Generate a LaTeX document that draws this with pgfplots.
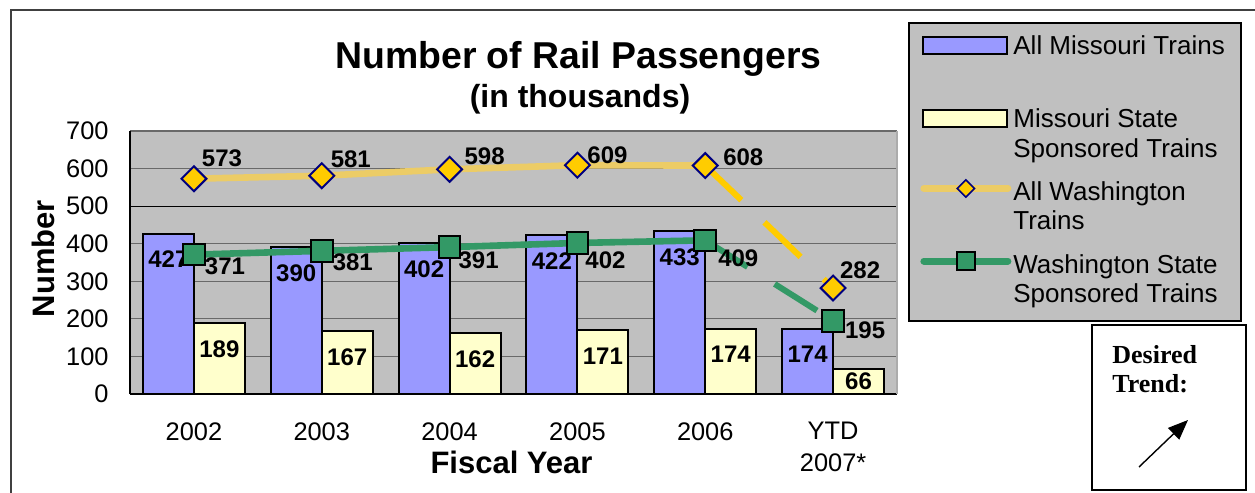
\documentclass[border=0pt]{standalone}
\usepackage{fontspec}
\setmainfont{Liberation Sans}
\newfontfamily\serifb{Liberation Serif}
\usepackage{pgfplots}
\pgfplotsset{compat=1.18}
\usetikzlibrary{arrows.meta}
\pgfplotsset{/pgf/number format/assume math mode=true}

\definecolor{mblue}{RGB}{153,153,255}
\definecolor{ybar}{RGB}{255,255,204}
\definecolor{plotbg}{RGB}{192,192,192}
\definecolor{gridc}{RGB}{105,105,105}
\definecolor{wline}{RGB}{236,204,102}
\definecolor{wdash}{RGB}{255,204,0}
\definecolor{wmark}{RGB}{255,204,0}
\definecolor{navyc}{RGB}{0,0,128}
\definecolor{gline}{RGB}{51,153,102}

\newcommand\tickfont{\fontsize{12.7bp}{15.8bp}\selectfont}
\newcommand\lblfont{\fontsize{12bp}{14bp}\selectfont\bfseries}
\newcommand\legfont{\fontsize{13bp}{15bp}\selectfont}
\newcommand\sA{\rule[-3bp]{0pt}{14bp}}
\newcommand\sB{\rule[-9.95bp]{0pt}{20.95bp}}
\newcommand\sC{\rule[-24.95bp]{0pt}{35.95bp}}

\pgfplotsset{
  legbar/.style={legend image code/.code={\draw[##1] (1.5bp,0.15bp) rectangle (43.5bp,8.65bp);}},
  legline/.style={legend image code/.code={\draw[mark repeat=2,mark phase=2,line cap=round,##1] plot coordinates {(1.75bp,6bp) (22.75bp,6bp) (43.75bp,6bp)};}},
}

\begin{document}
\begin{tikzpicture}
\useasboundingbox (0,0) rectangle (627.5bp,246.5bp);
% outer frame
\draw[line width=0.65bp, black!75] (5.5bp,0) -- (5.5bp,241.5bp) -- (627.5bp,241.5bp);
% legend box
\draw[fill=plotbg, draw=black, line width=1bp] (454.5bp,86bp) rectangle (620.5bp,235bp);
% desired trend box
\draw[line width=1.1bp] (546bp,1.5bp) rectangle (623bp,84bp);
\node[anchor=base west, inner sep=0pt, font=\serifb\bfseries\fontsize{13bp}{15bp}\selectfont] at (556bp,64.5bp) {Desired};
\node[anchor=base west, inner sep=0pt, font=\serifb\bfseries\fontsize{13bp}{15bp}\selectfont] at (556bp,50bp) {Trend:};
\draw[line width=0.7bp, -{Triangle[length=10bp,width=8bp]}] (569.5bp,13bp) -- (594bp,36.5bp);

\begin{axis}[
  at={(65bp,49.5bp)}, anchor=south west,
  scale only axis, width=383.5bp, height=131.5bp,
  xmin=-0.5, xmax=5.5, ymin=0, ymax=700,
  clip=false,
  xtick={0,1,2,3,4,5},
  xticklabels={2002,2003,2004,2005,2006,{YTD\\2007*}},
  ytick={0,100,200,300,400,600,700},
  extra y ticks={500},
  extra y tick style={grid style={black, line width=0.6bp}},
  major tick length=0pt,
  ymajorgrids, grid style={gridc, line width=0.6bp},
  axis background/.style={fill=plotbg},
  axis x line*=bottom, axis y line*=left,
  axis line style={black, line width=1bp},
  xticklabel style={font=\tickfont, anchor=north, inner sep=0pt, yshift=-14bp, align=center},
  yticklabel style={font=\tickfont, inner sep=0pt, xshift=-10.5bp},
  legend style={at={(1.029987,1.376426)}, anchor=north west, draw=none, fill=none, inner sep=0pt,
    row sep=0.7bp, column sep=1bp, cells={anchor=base west},
    nodes={inner sep=0pt, text depth=, text height=}, font=\legfont},
]
% right border
\draw[gray!65, line width=1bp] (rel axis cs:1,0) -- (rel axis cs:1,1);

% All Missouri Trains
\addplot[ybar, bar width=25.5bp, bar shift=-12.75bp, fill=mblue, draw=black, line width=1bp, forget plot,
  nodes near coords, point meta=y, visualization depends on={rawy \as \rawy},
  every node near coord/.append style={font=\lblfont, text=black, anchor=center, inner sep=0pt,
    xshift=-12.75bp, yshift={-min(13,0.18785*\rawy-6.5)*1bp}}]
  coordinates {(0,427) (1,390) (2,402) (3,422) (4,433) (5,174)};
% Missouri State Sponsored Trains
\addplot[ybar, bar width=25.5bp, bar shift=12.75bp, fill=ybar, draw=black, line width=1bp, forget plot,
  nodes near coords, point meta=y, visualization depends on={rawy \as \rawy},
  every node near coord/.append style={font=\lblfont, text=black, anchor=center, inner sep=0pt,
    xshift=12.75bp, yshift={-min(13,0.18785*\rawy-6.5)*1bp}}]
  coordinates {(0,189) (1,167) (2,162) (3,171) (4,174) (5,66)};

% All Washington Trains lines
\addplot[wline, line width=3.3bp, forget plot, mark=none] coordinates {(0,573) (1,581) (2,598) (3,609) (4,608)};
\addplot[wdash, line width=3bp, forget plot, mark=none, line cap=butt, dash pattern=on 25bp off 16bp] coordinates {(4,608) (5,282)};
% Washington State Sponsored lines
\addplot[gline, line width=3.3bp, forget plot, mark=none] coordinates {(0,371) (1,381) (2,391) (3,402) (4,409)};
\addplot[gline, line width=3bp, forget plot, mark=none, line cap=butt, dash pattern=on 25bp off 16bp] coordinates {(4,409) (5,195)};

% markers + labels
\addplot[only marks, forget plot, mark=square*, mark size=4.4bp,
  mark options={rotate=45, fill=wmark, draw=navyc, line width=1bp},
  nodes near coords, point meta=y,
  visualization depends on={\thisrow{dx} \as \dx},
  visualization depends on={\thisrow{dy} \as \dy},
  every node near coord/.append style={font=\lblfont, text=black, anchor=south west, inner sep=0pt,
    xshift=\dx bp, yshift=\dy bp}]
  table {
x y dx dy
0 573 3.5 5.35
1 581 4 3.7
2 598 7 2
3 609 4.5 0
4 608 8.5 -0.7
5 282 3 4
};
\addplot[only marks, forget plot, mark=square*, mark size=5.4bp,
  mark options={fill=gline, draw=black, line width=1bp},
  nodes near coords, point meta=y,
  visualization depends on={\thisrow{dx} \as \dx},
  visualization depends on={\thisrow{dy} \as \dy},
  every node near coord/.append style={font=\lblfont, text=black, anchor=north west, inner sep=0pt,
    xshift=\dx bp, yshift=\dy bp}]
  table {
x y dx dy
0 371 5 -1
1 381 5 -1
2 391 4 -2
3 402 3.5 -4
4 409 6 -4
5 195 5.5 0
};

% legend
\addlegendimage{legbar, fill=mblue, draw=black, line width=1bp}
\addlegendentry{All Missouri Trains\sC}
\addlegendimage{legbar, fill=ybar, draw=black, line width=1bp}
\addlegendentry{Missouri State\sA}
\addlegendimage{empty legend}
\addlegendentry{Sponsored Trains\sB}
\addlegendimage{legline, color=wline, line width=3.5bp, mark=square*, mark size=3.05bp,
  mark options={rotate=45, fill=wmark, draw=navyc, line width=0.8bp}}
\addlegendentry{All Washington\sA}
\addlegendimage{empty legend}
\addlegendentry{Trains\sB}
\addlegendimage{legline, color=gline, line width=3.5bp, mark=square*, mark size=4.5bp,
  mark options={fill=gline, draw=black, line width=0.8bp}}
\addlegendentry{Washington State\sA}
\addlegendimage{empty legend}
\addlegendentry{Sponsored Trains\sA}
\end{axis}

\node[anchor=base, inner sep=0pt, font=\fontsize{18.7bp}{22bp}\selectfont\bfseries] at (289.25bp,212.3bp) {Number of Rail Passengers};
\node[anchor=base, inner sep=0pt, font=\fontsize{16bp}{19bp}\selectfont\bfseries] at (290bp,192.5bp) {(in thousands)};
\node[inner sep=0pt, font=\fontsize{15.5bp}{18bp}\selectfont\bfseries] at (255.75bp,15.25bp) {Fiscal Year};
\node[inner sep=0pt, rotate=90, font=\fontsize{15.5bp}{18bp}\selectfont\bfseries] at (21.85bp,117.25bp) {Number};
\end{tikzpicture}
\end{document}
